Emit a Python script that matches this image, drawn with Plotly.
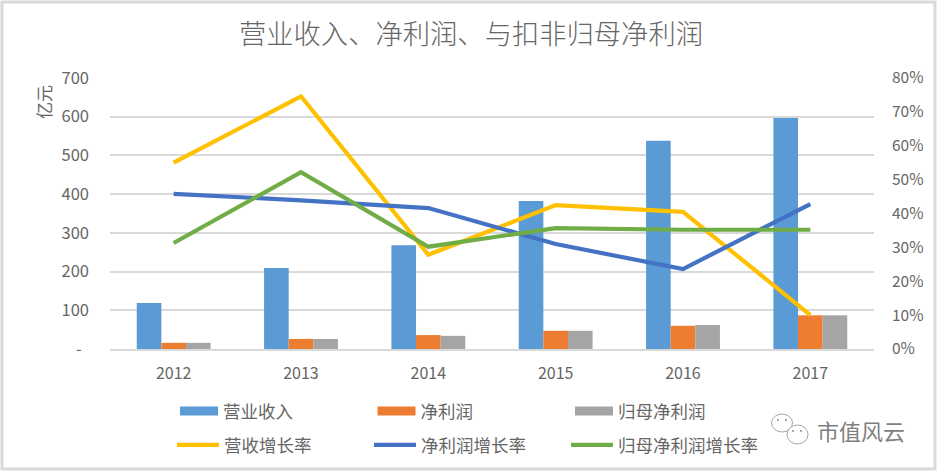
import plotly.graph_objects as go

years = ["2012", "2013", "2014", "2015", "2016", "2017"]
revenue = [119, 209, 268, 382, 538, 597]
net_profit = [16, 26, 36, 47, 60, 87]
parent_profit = [16, 26, 34, 47, 62, 87]
revenue_growth = [55.0, 74.6, 27.8, 42.5, 40.5, 10.0]
net_growth = [45.8, 43.9, 41.6, 31.0, 23.6, 42.8]
parent_growth = [31.3, 52.2, 30.2, 35.7, 35.2, 35.2]
left_ticks = [0, 100, 200, 300, 400, 500, 600, 700]
left_labels = ["-\u00a0\u00a0", "100", "200", "300", "400", "500", "600", "700"]
right_ticks = [0, 10, 20, 30, 40, 50, 60, 70, 80]
right_labels = ["0%", "10%", "20%", "30%", "40%", "50%", "60%", "70%", "80%"]

FONT = "Noto Sans CJK SC"
GREY = "#666666"
W, H = 937, 471
L, R, T, B = 110, 874, 78, 349
PW, PH = R - L, B - T

def px(x):
    return (x - L) / PW

def py(y):
    return (B - y) / PH

fig = go.Figure()
bars = [("营业收入", revenue, "#5b9bd5"), ("净利润", net_profit, "#ed7d31"), ("归母净利润", parent_profit, "#a5a5a5")]
for name, vals, col in bars:
    fig.add_trace(go.Bar(x=years, y=vals, name=name, marker=dict(color=col, line_width=0),
                         showlegend=False, yaxis="y"))
# Legend keys for the bars: wide flat keys as in the reference
for name, vals, col in bars:
    fig.add_trace(go.Scatter(x=[None], y=[None], name=name, mode="lines", line=dict(color=col, width=9),
                             yaxis="y", legend="legend"))
for name, vals, col in [("营收增长率", revenue_growth, "#ffc000"), ("净利润增长率", net_growth, "#4472c4"),
                        ("归母净利润增长率", parent_growth, "#70ad47")]:
    fig.add_trace(go.Scatter(x=years, y=vals, name=name, mode="lines", line=dict(color=col, width=4.2),
                             yaxis="y2", legend="legend2"))

shapes = [dict(type="rect", xref="paper", yref="paper", x0=px(2), x1=px(935), y0=py(2), y1=py(469),
               line=dict(color="#d9d9d9", width=3), fillcolor="white", layer="below")]
# WeChat-style mark
for cx, cy, rx, ry in [(782, 423, 10.5, 9), (797.5, 434.5, 10.5, 9.5)]:
    shapes.append(dict(type="circle", xref="paper", yref="paper", x0=px(cx - rx), x1=px(cx + rx),
                       y0=py(cy + ry), y1=py(cy - ry), line=dict(color="#a6a6a6", width=1),
                       fillcolor="white"))
for cx, cy in [(778, 420), (786, 420), (793, 431), (801, 431)]:
    shapes.append(dict(type="circle", xref="paper", yref="paper", x0=px(cx - 1), x1=px(cx + 1),
                       y0=py(cy + 1), y1=py(cy - 1), line_width=0, fillcolor="#8c8c8c"))

legend_common = dict(orientation="h", xanchor="left", yanchor="middle", entrywidthmode="pixels",
                     font=dict(size=17.5, color=GREY, family=FONT), bgcolor="rgba(0,0,0,0)",
                     traceorder="normal")

fig.update_layout(
    width=W, height=H, autosize=False,
    margin=dict(l=L, r=W - R, t=T, b=H - B, autoexpand=False),
    paper_bgcolor="white", plot_bgcolor="white",
    barmode="group", bargap=0.42, bargroupgap=0,
    font=dict(family=FONT, color=GREY, size=15),
    title=dict(text="营业收入、净利润、与扣非归母净利润", x=471 / W, xanchor="center", y=1 - 34 / H, yanchor="middle",
               font=dict(size=27.3, color=GREY, family=FONT, weight=300)),
    xaxis=dict(type="category", showgrid=False, showline=True, linecolor="#d9d9d9", linewidth=2, ticks="",
               ticklabelstandoff=9, tickfont=dict(size=16, color=GREY, family=FONT)),
    yaxis=dict(range=[0, 700], tickvals=left_ticks, ticktext=left_labels, gridcolor="#d9d9d9", gridwidth=1.5,
               zeroline=False, showline=False, ticks="", ticklabelstandoff=20,
               tickfont=dict(size=16.5, color=GREY, family=FONT)),
    yaxis2=dict(range=[0, 80], overlaying="y", side="right", tickvals=right_ticks, ticktext=right_labels,
                showgrid=False, zeroline=False, showline=False, ticks="", ticklabelstandoff=17,
                tickfont=dict(size=15.5, color=GREY, family=FONT)),
    legend=dict(x=px(175), y=py(411), itemwidth=38, entrywidth=144.5, **legend_common),
    legend2=dict(x=px(172), y=py(445), itemwidth=42, entrywidth=140, **legend_common),
    shapes=shapes,
    annotations=[
        dict(text="亿元", xref="paper", yref="paper", x=px(43), y=py(102), xanchor="center", yanchor="middle",
             showarrow=False, textangle=-90, font=dict(size=17, color=GREY, family=FONT)),
        dict(text="市值风云", xref="paper", yref="paper", x=px(861), y=py(430), xanchor="center", yanchor="middle",
             showarrow=False, font=dict(size=22, color="#7f7f7f", family=FONT)),
    ],
)
fig.write_html("out.html", config={"displayModeBar": False}, post_script="document.body.style.margin='0';")
